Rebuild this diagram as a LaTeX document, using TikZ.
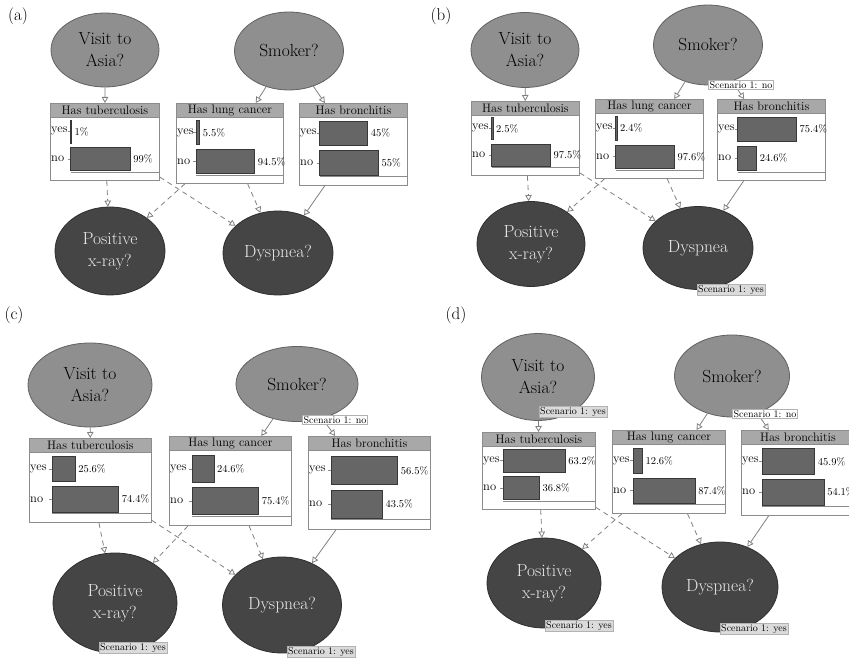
\documentclass[tikz,border=0pt]{standalone}
\usepackage{fontspec}
\usepackage{tikz}
\usetikzlibrary{arrows.meta,shapes.geometric}
\definecolor{topcol}{gray}{0.56}
\definecolor{topline}{gray}{0.38}
\definecolor{botcol}{gray}{0.27}
\definecolor{botline}{gray}{0.18}
\definecolor{headcol}{gray}{0.66}
\definecolor{barcol}{gray}{0.40}
\definecolor{barline}{gray}{0.22}
\definecolor{boxline}{gray}{0.55}
\definecolor{linkcol}{gray}{0.50}
\definecolor{evcol}{gray}{0.86}
% probability table: #1 name, #2 north-west corner, #3 width, #4 height, #5 title, #6 yes, #7 no
\newcommand{\cpt}[7]{%
  \pgfmathsetmacro\cptmax{max(#6,#7)}%
  \pgfmathsetmacro\cptyes{0.545*#3*#6/\cptmax}%
  \pgfmathsetmacro\cptno{0.545*#3*#7/\cptmax}%
  \pgfmathsetmacro\cptx{0.19*#3}%
  \node[cptbox,minimum width=#3pt,minimum height=#4pt,anchor=north west] (#1) at (#2) {};
  \node[cpthead,minimum width=#3pt,anchor=north west] (#1-head) at (#1.north west) {#5};
  \path (#1.north west) ++(1,0.37*#4) node[rowlab] (#1-y) {yes};
  \path (#1.north west) ++(1,0.73*#4) node[rowlab] (#1-n) {no};
  \draw[cptaxis] (#1.north west) ++(\cptx-3,0.37*#4) -- ++(3,0);
  \draw[cptaxis] (#1.north west) ++(\cptx-3,0.73*#4) -- ++(3,0);
  \draw[cptbar] (#1.north west) ++(\cptx,0.22*#4) rectangle ++(\cptyes,0.3*#4);
  \draw[cptbar] (#1.north west) ++(\cptx,0.58*#4) rectangle ++(\cptno,0.3*#4);
  \path (#1.north west) ++(\cptx+\cptyes+3,0.37*#4) node[pctlab] {#6\%};
  \path (#1.north west) ++(\cptx+\cptno+3,0.73*#4) node[pctlab] {#7\%};
  \draw[cptaxis] (#1.north west) ++(\cptx,0.9*#4) -- ++(#3-\cptx,0);
}

\begin{document}
\begin{tikzpicture}[x=1pt,y=-1pt,
  >={Triangle[open,length=6pt,width=6.5pt]},
  topnode/.style={ellipse,draw=topline,fill=topcol,line width=0.8pt,inner sep=0pt,align=center,
    font=\fontsize{17.5}{22}\selectfont},
  botnode/.style={ellipse,draw=botline,fill=botcol,line width=0.8pt,inner sep=0pt,align=center,
    text=white!92!black,font=\fontsize{17.5}{22}\selectfont},
  ell/.style 2 args={minimum width=#1pt,minimum height=#2pt},
  cptbox/.style={draw=boxline,fill=white,line width=0.9pt,inner sep=0pt},
  cpthead/.style={draw=boxline,fill=headcol,line width=0.9pt,inner sep=0pt,minimum height=14pt,
    font=\fontsize{12.3}{14}\selectfont},
  rowlab/.style={anchor=west,inner sep=0pt,font=\fontsize{12.5}{14}\selectfont},
  pctlab/.style={anchor=west,inner sep=0pt,font=\fontsize{10.5}{12}\selectfont},
  cptbar/.style={draw=barline,fill=barcol,line width=0.6pt},
  cptaxis/.style={draw=boxline,line width=0.6pt},
  link/.style={->,draw=linkcol,line width=0.8pt},
  dlink/.style={link,dash pattern=on 5pt off 4pt},
  evyes/.style={draw=gray!60,fill=evcol,inner sep=1pt,font=\fontsize{10}{11}\selectfont},
  evno/.style={evyes,fill=white},
  panel/.style={inner sep=0pt,font=\fontsize{17}{20}\selectfont},
]
\useasboundingbox (0,0) rectangle (849,660);

% --- (a) prior beliefs ---
\node[panel] (a-tag) at (18,16) {(a)};
\node[topnode,ell={108}{74}] (a-visit) at (105,50) {Visit to\\Asia?};
\node[topnode,ell={109}{78}] (a-smoker) at (289,51) {Smoker?};
\cpt{a-tb}{50,103}{109}{77}{Has tuberculosis}{1}{99}
\cpt{a-lc}{176,103}{107}{80}{Has lung cancer}{5.5}{94.5}
\cpt{a-br}{299,103}{108}{82}{Has bronchitis}{45}{55}
\node[botnode,ell={110}{88}] (a-xray) at (110,251) {Positive\\x-ray?};
\node[botnode,ell={110}{84}] (a-dysp) at (278,253) {Dyspnea?};

% --- (b) non-smoker with dyspnea ---
\node[panel] (b-tag) at (441,16) {(b)};
\node[topnode,ell={108}{75}] (b-visit) at (525,50) {Visit to\\Asia?};
\node[topnode,ell={109}{80}] (b-smoker) at (708,45) {Smoker?};
\cpt{b-tb}{471,101}{108}{74}{Has tuberculosis}{2.5}{97.5}
\cpt{b-lc}{595,99}{108}{79}{Has lung cancer}{2.4}{97.6}
\cpt{b-br}{717,99}{108}{81}{Has bronchitis}{75.4}{24.6}
\node[botnode,ell={108}{85}] (b-xray) at (531,244) {Positive\\x-ray?};
\node[botnode,ell={110}{83}] (b-dysp) at (698,248) {Dyspnea};

% --- (c) adds a positive x-ray ---
\node[panel] (c-tag) at (14,315) {(c)};
\node[topnode,ell={124}{84}] (c-visit) at (90,385) {Visit to\\Asia?};
\node[topnode,ell={122}{75}] (c-smoker) at (297,384) {Smoker?};
\cpt{c-tb}{29,438}{122}{84}{Has tuberculosis}{25.6}{74.4}
\cpt{c-lc}{169,436}{122}{89}{Has lung cancer}{24.6}{75.4}
\cpt{c-br}{308,436}{122}{93}{Has bronchitis}{56.5}{43.5}
\node[botnode,ell={124}{100}] (c-xray) at (115,603) {Positive\\x-ray?};
\node[botnode,ell={119}{96}] (c-dysp) at (282,605) {Dyspnea?};

% --- (d) adds the visit to Asia ---
\node[panel] (d-tag) at (456,315) {(d)};
\node[topnode,ell={113}{87}] (d-visit) at (538,377) {Visit to\\Asia?};
\node[topnode,ell={115}{82}] (d-smoker) at (732,376) {Smoker?};
\cpt{d-tb}{482,432}{113}{77}{Has tuberculosis}{63.2}{36.8}
\cpt{d-lc}{612,430}{113}{83}{Has lung cancer}{12.6}{87.4}
\cpt{d-br}{741,430}{113}{85}{Has bronchitis}{45.9}{54.1}
\node[botnode,ell={114}{90}] (d-xray) at (544,583) {Positive\\x-ray?};
\node[botnode,ell={116}{90}] (d-dysp) at (720,587) {Dyspnea?};

% --- arcs, same in every panel ---
\foreach \p in {a,b,c,d}{
  \draw[link] (\p-visit) -- (\p-tb);
  \draw[link] (\p-smoker) -- (\p-lc);
  \draw[link] (\p-smoker) -- (\p-br);
  \draw[link] (\p-br) -- (\p-dysp);
  \draw[dlink] (\p-tb) -- (\p-xray);
  \draw[dlink] (\p-tb) -- (\p-dysp);
  \draw[dlink] (\p-lc) -- (\p-xray);
  \draw[dlink] (\p-lc) -- (\p-dysp);
}

% --- evidence tags ---
\node[evno]  (b-smoker-ev) at (741,85)  {Scenario 1: no};
\node[evyes] (b-dysp-ev)   at (731,290) {Scenario 1: yes};
\node[evno]  (c-smoker-ev) at (335,420) {Scenario 1: no};
\node[evyes] (c-xray-ev)   at (133,648) {Scenario 1: yes};
\node[evyes] (c-dysp-ev)   at (321,652) {Scenario 1: yes};
\node[evyes] (d-visit-ev)  at (573,412) {Scenario 1: yes};
\node[evno]  (d-smoker-ev) at (765,414) {Scenario 1: no};
\node[evyes] (d-xray-ev)   at (579,626) {Scenario 1: yes};
\node[evyes] (d-dysp-ev)   at (754,629) {Scenario 1: yes};
\end{tikzpicture}
\end{document}
